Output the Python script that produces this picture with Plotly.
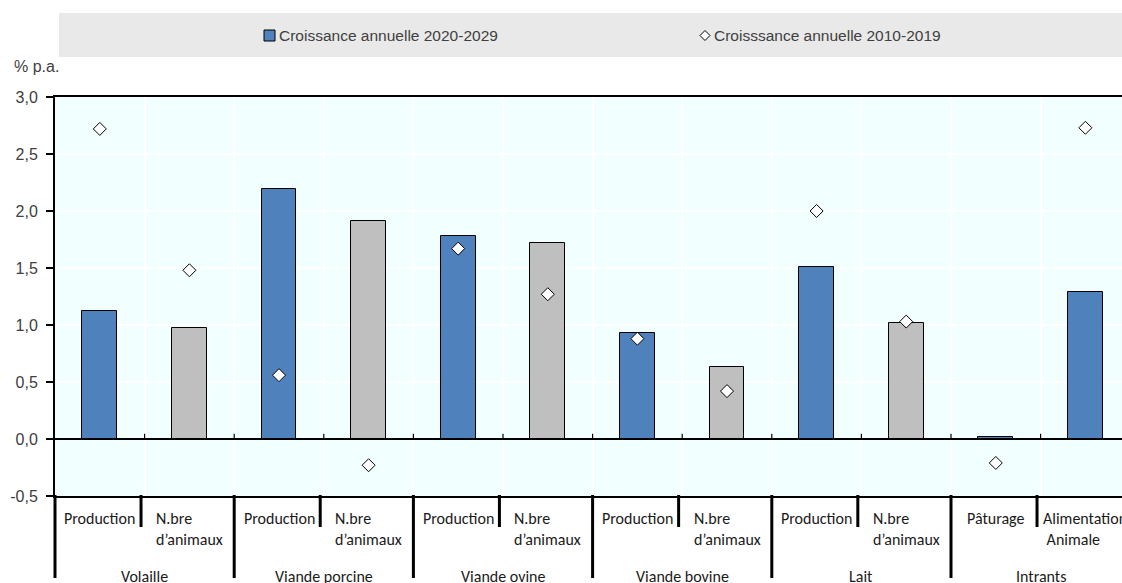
import plotly.graph_objects as go

# Groups and their sub-categories (two bars per group)
groups = ["Volaille", "Viande porcine", "Viande ovine", "Viande bovine", "Lait", "Intrants"]
sub_labels = [
    "Production", "N.bre<br>d’animaux",
    "Production", "N.bre<br>d’animaux",
    "Production", "N.bre<br>d’animaux",
    "Production", "N.bre<br>d’animaux",
    "Production", "N.bre<br>d’animaux",
    "Pâturage", "Alimentation<br> Animale",
]
# Annual growth, % p.a.
growth_2020_2029 = [1.12, 0.97, 2.19, 1.91, 1.78, 1.72, 0.93, 0.63, 1.51, 1.02, 0.02, 1.29]
growth_2010_2019 = [2.72, 1.48, 0.56, -0.23, 1.67, 1.27, 0.88, 0.42, 2.00, 1.03, -0.21, 2.73]
y_ticks = [-0.5, 0.0, 0.5, 1.0, 1.5, 2.0, 2.5, 3.0]
y_tick_text = ["-0,5", "0,0", "0,5", "1,0", "1,5", "2,0", "2,5", "3,0"]

BLUE = "#4F81BD"
GREY = "#BFBFBF"
TXT = "#404040"
SANS = "Liberation Sans, Arial, sans-serif"
CAT_FONT = "Carlito, Lato, Calibri, sans-serif"

W, H = 1122, 583
L, R, T, B = 55, 0, 97, 87
plot_w = W - L - R
plot_h = H - T - B
slot_px = 89.6
x0 = -0.5
x1 = x0 + plot_w / slot_px

n = len(sub_labels)
xs = list(range(n))
bar_colors = [GREY if "animaux" in s else BLUE for s in sub_labels]


def px_x(px):
    return (px - L) / plot_w


def px_y(py):
    return (H - B - py) / plot_h


def data_to_paper_x(v):
    return (v - x0) / (x1 - x0)


fig = go.Figure()
fig.add_trace(go.Bar(
    x=xs, y=growth_2020_2029, width=0.39,
    marker=dict(color=bar_colors, line=dict(color="black", width=1)),
    name="Croissance annuelle 2020-2029", showlegend=False,
))
fig.add_trace(go.Scatter(
    x=xs, y=growth_2010_2019, mode="markers",
    marker=dict(symbol="diamond", size=10, color="white",
                line=dict(color="black", width=1)),
    name="Croisssance annuelle 2010-2019", showlegend=False, cliponaxis=False,
))

shapes = []
annotations = []

# Legend band
shapes.append(dict(type="rect", xref="paper", yref="paper",
                   x0=px_x(59), x1=px_x(1130), y0=px_y(57), y1=px_y(13),
                   fillcolor="#E9E9E9", line=dict(width=0), layer="below"))
shapes.append(dict(type="rect", xref="paper", yref="paper",
                   xsizemode="pixel", ysizemode="pixel",
                   xanchor=px_x(269.5), yanchor=px_y(35.5),
                   x0=-5.5, x1=5.5, y0=-5.5, y1=5.5,
                   fillcolor=BLUE, line=dict(color="black", width=1)))
shapes.append(dict(type="path", xref="paper", yref="paper",
                   xsizemode="pixel", ysizemode="pixel",
                   xanchor=px_x(705), yanchor=px_y(35.5),
                   path="M -5 0 L 0 5 L 5 0 L 0 -5 Z",
                   fillcolor="white", line=dict(color="black", width=1)))
annotations.append(dict(text="Croissance annuelle 2020-2029", xref="paper", yref="paper",
                        x=px_x(277), y=px_y(35.5), xanchor="left", yanchor="middle",
                        showarrow=False, font=dict(family=SANS, size=15.5, color=TXT)))
annotations.append(dict(text="Croisssance annuelle 2010-2019", xref="paper", yref="paper",
                        x=px_x(712), y=px_y(35.5), xanchor="left", yanchor="middle",
                        showarrow=False, font=dict(family=SANS, size=15.5, color=TXT)))

# Unit label
annotations.append(dict(text="% p.a.", xref="paper", yref="paper",
                        x=px_x(12), y=px_y(67), xanchor="left", yanchor="middle",
                        showarrow=False, font=dict(family=SANS, size=16, color=TXT)))

# Category labels (first level)
for i, lab in enumerate(sub_labels):
    annotations.append(dict(text=lab, xref="x", yref="paper", x=i, y=px_y(507),
                            xanchor="center", yanchor="top", align="left",
                            showarrow=False,
                            font=dict(family=CAT_FONT, size=16, color="#1a1a1a")))
# Group labels (second level)
for g, name in enumerate(groups):
    annotations.append(dict(text=name, xref="x", yref="paper", x=2 * g + 0.5, y=px_y(576),
                            xanchor="center", yanchor="middle", showarrow=False,
                            font=dict(family=CAT_FONT, size=16, color="#1a1a1a")))

# Separators under the axis
for k in range(n + 1):
    b = k - 0.5
    if k % 2 == 0:
        shapes.append(dict(type="line", xref="paper", yref="paper",
                           x0=data_to_paper_x(b), x1=data_to_paper_x(b),
                           y0=px_y(495), y1=px_y(578),
                           line=dict(color="black", width=3)))
    else:
        bb = b - 0.04
        shapes.append(dict(type="line", xref="paper", yref="paper",
                           x0=data_to_paper_x(bb), x1=data_to_paper_x(bb),
                           y0=px_y(495), y1=px_y(527),
                           line=dict(color="black", width=3)))
    # small ticks on the zero line
    if 0 < k:
        shapes.append(dict(type="line", xref="x", yref="y",
                           x0=b, x1=b, y0=0, y1=0.045,
                           line=dict(color="black", width=1.2)))

fig.update_layout(
    width=W, height=H,
    margin=dict(l=L, r=R, t=T, b=B, pad=0),
    paper_bgcolor="white",
    plot_bgcolor="#F2FFFF",
    bargap=0,
    shapes=shapes,
    annotations=annotations,
    showlegend=False,
    xaxis=dict(
        range=[x0, x1], showticklabels=False, ticks="",
        tick0=0.5, dtick=1, showgrid=True, gridcolor="white", gridwidth=1.5,
        showline=True, linecolor="black", linewidth=2, mirror=True,
        zeroline=False,
    ),
    yaxis=dict(
        range=[-0.5, 3.0], tickvals=y_ticks, ticktext=y_tick_text,
        ticks="outside", ticklen=7, tickwidth=1.5, tickcolor="black",
        ticklabelstandoff=5,
        showgrid=True, gridcolor="white", gridwidth=1.5,
        showline=True, linecolor="black", linewidth=2,
        zeroline=True, zerolinecolor="black", zerolinewidth=1.5,
        tickfont=dict(family=SANS, size=16, color=TXT),
    ),
)

fig.write_html("out.html")
